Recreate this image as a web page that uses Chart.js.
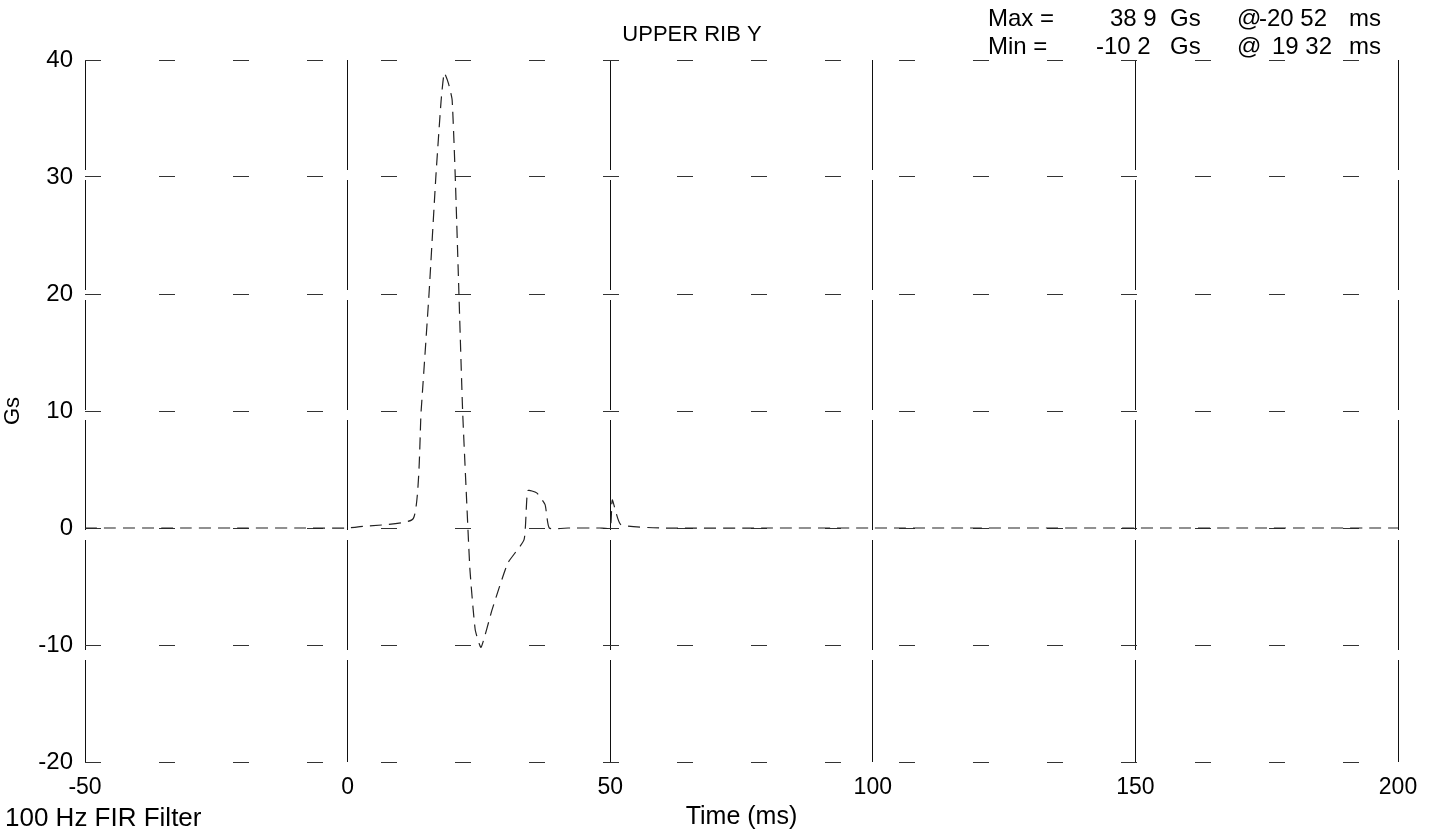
<!DOCTYPE html>
<html>
<head>
<meta charset="utf-8">
<script src="https://cdn.jsdelivr.net/npm/chart.js@4/dist/chart.umd.min.js"></script>
<style>
  html, body { margin: 0; padding: 0; background: #fff; }
  #wrap { width: 1435px; height: 832px; position: relative; }
</style>
</head>
<body>
<div id="wrap"><canvas id="ribChart"></canvas></div>
<script>
// values
const timeMs = [-50, -30, -20, -10, 0, 2, 12.5, 14.0, 15.5, 16.8, 17.8, 18.4, 19.2, 19.9, 20.5, 21.2, 21.9, 22.6, 23.3, 24.3, 25.4, 27.5, 30.5, 33.6, 34.3, 36.0, 37.6, 38.4, 42, 48, 50, 50.4, 52, 60, 80, 100, 120, 150, 175, 200];
const accelG = [0, 0, 0, 0, 0, 0.1, 0.8, 10, 20, 30, 36.5, 38.9, 38.0, 36.6, 30, 20, 10, 3, -3.6, -8.7, -10.2, -7, -3, -1, 3.2, 3.0, 2, 0, 0, 0, 0, 2.4, 0.3, 0, 0, 0, 0, 0, 0, 0];
const xTicks = [-50, 0, 50, 100, 150, 200];
const yTicks = [-20, -10, 0, 10, 20, 30, 40];

const titleText = "UPPER RIB Y";
const maxLine = ["Max =", "38 9", "Gs", "@", "-20 52", "ms"];
const minLine = ["Min =", "-10 2", "Gs", "@", "19 32", "ms"];
const filterText = "100 Hz FIR Filter";

const font = "Arial, 'Liberation Sans', sans-serif";

const overlayText = {
  id: "overlayText",
  afterDraw(chart) {
    const ctx = chart.ctx;
    ctx.save();
    ctx.fillStyle = "#000";
    ctx.textBaseline = "alphabetic";
    ctx.font = `22px ${font}`;
    ctx.textAlign = "center";
    ctx.fillText(titleText, 692, 41);

    ctx.font = `24px ${font}`;
    ctx.textAlign = "left";
    const cols = [988, 1110, 1170, 1237, 1259, 1349];
    maxLine.forEach((t, i) => ctx.fillText(t, cols[i], 26));
    const cols2 = [988, 1096, 1170, 1237, 1272, 1349];
    minLine.forEach((t, i) => ctx.fillText(t, cols2[i], 54));

    ctx.font = `26px ${font}`;
    ctx.fillText(filterText, 5, 826);
    ctx.restore();
  }
};

const points = timeMs.map((t, i) => ({ x: t, y: accelG[i] }));

new Chart(document.getElementById("ribChart"), {
  type: "line",
  data: {
    datasets: [{
      data: points,
      borderColor: "#222",
      borderWidth: 1.2,
      borderDash: [12, 7],
      pointRadius: 0,
      tension: 0.15,
      fill: false
    }]
  },
  options: {
    responsive: true,
    maintainAspectRatio: false,
    animation: false,
    layout: { padding: { top: 60, right: 37, left: 0, bottom: 0 } },
    plugins: { legend: { display: false }, tooltip: { enabled: false }, title: { display: false } },
    scales: {
      x: {
        type: "linear",
        min: -50,
        max: 200,
        afterBuildTicks: (s) => { s.ticks = xTicks.map(v => ({ value: v })); },
        afterFit: (s) => { s.height = 70; },
        ticks: { color: "#000", font: { family: font, size: 23 }, padding: 12, maxRotation: 0 },
        grid: { color: "#111", lineWidth: 1, drawTicks: false },
        border: { display: false, dash: [110, 10] },
        title: { display: true, text: "Time (ms)", color: "#000", font: { family: font, size: 25 }, padding: { top: 0, bottom: 0 } }
      },
      y: {
        type: "linear",
        min: -20,
        max: 40,
        afterBuildTicks: (s) => { s.ticks = yTicks.map(v => ({ value: v })); },
        afterFit: (s) => { s.width = 85; },
        ticks: { color: "#000", font: { family: font, size: 24 }, padding: 12 },
        grid: { color: "#333", lineWidth: 1, drawTicks: false },
        border: { display: false, dash: [16, 58] },
        title: { display: true, text: "Gs", color: "#000", font: { family: font, size: 22 }, padding: { top: 0, bottom: 4 } }
      }
    }
  },
  plugins: [overlayText]
});
</script>
</body>
</html>
